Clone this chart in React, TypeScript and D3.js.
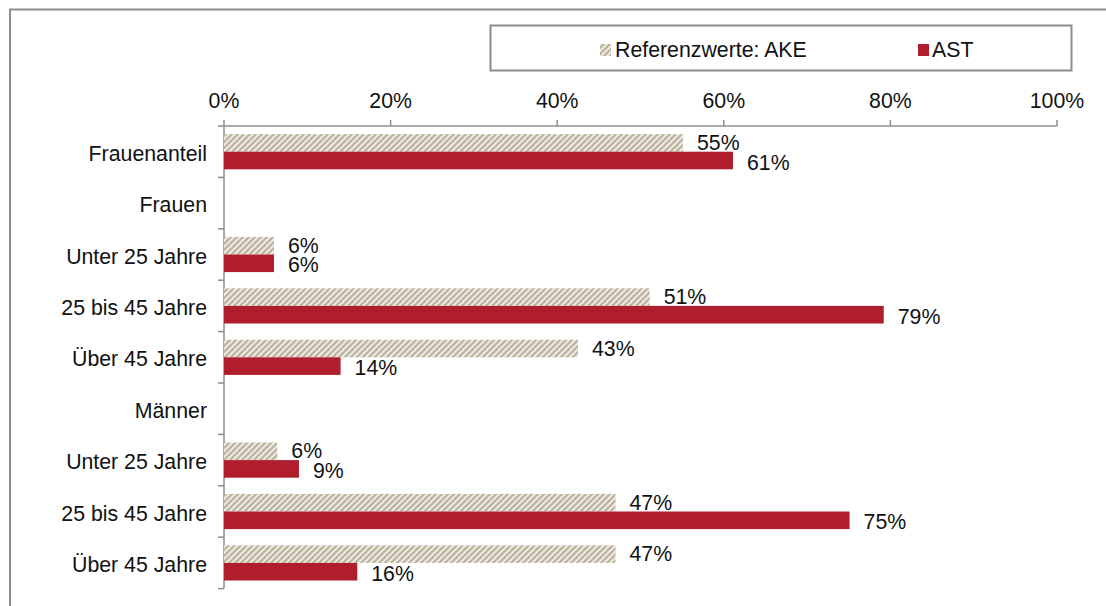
import React from 'react';
import * as d3 from 'd3';

const categories: string[] = [
  'Frauenanteil',
  'Frauen',
  'Unter 25 Jahre',
  '25 bis 45 Jahre',
  'Über 45 Jahre',
  'Männer',
  'Unter 25 Jahre ',
  '25 bis 45 Jahre ',
  'Über 45 Jahre ',
];
// null = heading row without bars
const akeValues: (number | null)[] = [0.551, null, 0.06, 0.511, 0.425, null, 0.064, 0.47, 0.47];
const astValues: (number | null)[] = [0.611, null, 0.06, 0.792, 0.14, null, 0.09, 0.751, 0.16];
const ticks: number[] = [0, 0.2, 0.4, 0.6, 0.8, 1];
const seriesNames: string[] = ['Referenzwerte: AKE', 'AST'];

const WIDTH = 1106;
const HEIGHT = 606;
const RED = '#b01e2e';
const AXIS = '#8c8c8c';
const FONT = '"Liberation Sans", Arial, sans-serif';
const FS = 21.3;

const App = () => {
  const xScale = d3.scaleLinear().domain([0, 1]).range([224, 1057]);
  const yScale = d3.scaleBand<string>().domain(categories).range([126, 588.6]);
  const step = yScale.step();
  const barH = 17.6;

  const fmt = d3.format('.0%');

  return (
    <svg
      width={WIDTH}
      height={HEIGHT}
      style={{ position: 'absolute', left: 0, top: 0, fontFamily: FONT }}
    >
      <defs>
        <pattern id="hatch" patternUnits="userSpaceOnUse" width="6" height="6">
          <rect width="6" height="6" fill="#f1eee8" />
          <path d="M-1.5,1.5 l3,-3 M0,6 l6,-6 M4.5,7.5 l3,-3" stroke="#bdb5a0" strokeWidth="2.3" />
        </pattern>
      </defs>
      <rect width={WIDTH} height={HEIGHT} fill="#fff" />
      {/* outer frame */}
      <path d={`M10,${HEIGHT} V9.5 H${WIDTH}`} fill="none" stroke={AXIS} strokeWidth={2} />

      {/* legend */}
      <rect x={490.5} y={25.5} width={581} height={45} fill="#fff" stroke={AXIS} strokeWidth={2} />
      <rect x={600} y={44} width={11} height={12} fill="url(#hatch)" />
      <text x={615} y={50} dominantBaseline="central" fontSize={FS} fill="#111">
        {seriesNames[0]}
      </text>
      <rect x={918} y={44} width={11} height={12} fill={RED} />
      <text x={932} y={50} dominantBaseline="central" fontSize={FS} fill="#111">
        {seriesNames[1]}
      </text>

      {/* top axis */}
      <line x1={xScale(0)} x2={xScale(1)} y1={126} y2={126} stroke={AXIS} strokeWidth={1.5} />
      {ticks.map((t) => (
        <g key={t}>
          <line x1={xScale(t)} x2={xScale(t)} y1={120} y2={126} stroke={AXIS} strokeWidth={1.5} />
          <text x={xScale(t)} y={101} textAnchor="middle" dominantBaseline="central" fontSize={FS} fill="#111">
            {fmt(t)}
          </text>
        </g>
      ))}

      {/* left axis */}
      <line x1={224} x2={224} y1={126} y2={588.6} stroke={AXIS} strokeWidth={1.5} />
      {d3.range(categories.length + 1).map((i) => (
        <line key={i} x1={218} x2={224} y1={126 + i * step} y2={126 + i * step} stroke={AXIS} strokeWidth={1.5} />
      ))}

      {categories.map((c, i) => {
        const y0 = (yScale(c) as number) + step / 2;
        const ake = akeValues[i];
        const ast = astValues[i];
        return (
          <g key={c}>
            <text x={207} y={y0 + 2} textAnchor="end" dominantBaseline="central" fontSize={FS} fill="#111">
              {c.trim()}
            </text>
            {ake !== null && (
              <>
                <rect x={xScale(0)} y={y0 - barH} width={xScale(ake) - xScale(0)} height={barH} fill="url(#hatch)" />
                <text x={xScale(ake) + 14} y={y0 - barH / 2} dominantBaseline="central" fontSize={FS} fill="#111">
                  {fmt(ake)}
                </text>
              </>
            )}
            {ast !== null && (
              <>
                <rect x={xScale(0)} y={y0} width={xScale(ast) - xScale(0)} height={barH} fill={RED} />
                <text x={xScale(ast) + 14} y={y0 + barH / 2 + 2} dominantBaseline="central" fontSize={FS} fill="#111">
                  {fmt(ast)}
                </text>
              </>
            )}
          </g>
        );
      })}
    </svg>
  );
};

export default App;
